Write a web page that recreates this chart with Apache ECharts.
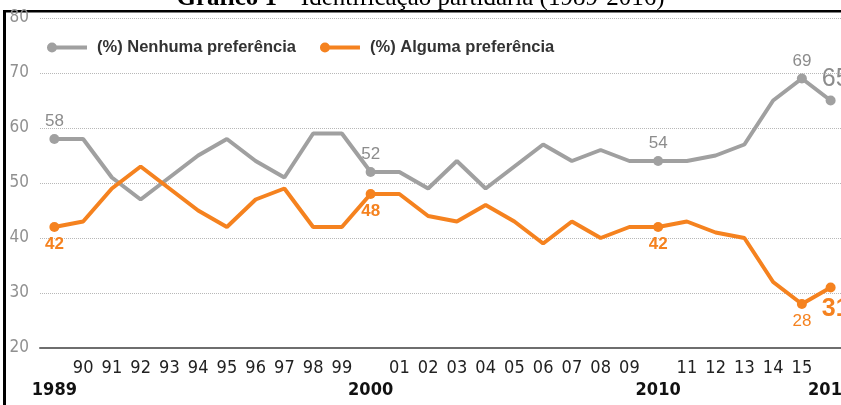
<!DOCTYPE html>
<html>
<head>
<meta charset="utf-8">
<script src="https://cdn.jsdelivr.net/npm/echarts@6/dist/echarts.min.js"></script>
<style>
  html, body { margin: 0; padding: 0; background: #fff; }
  #chart { width: 841px; height: 405px; }
</style>
</head>
<body>
<div id="chart"></div>
<script>
var years = ['1989', '1990', '1991', '1992', '1993', '1994', '1995', '1996', '1997', '1998',
             '1999', '2000', '2001', '2002', '2003', '2004', '2005', '2006', '2007', '2008',
             '2009', '2010', '2011', '2012', '2013', '2014', '2015', '2016'];
var nenhuma = [58, 58, 51, 47, 51, 55, 58, 54, 51, 59, 59, 52, 52, 49, 54, 49, 53, 57, 54, 56, 54, 54, 54, 55, 57, 65, 69, 65];
var alguma = [42, 43, 49, 53, 49, 45, 42, 47, 49, 42, 42, 48, 48, 44, 43, 46, 43, 39, 43, 40, 42, 42, 43, 41, 40, 32, 28, 31];
var bigYears = ['1989', '2000', '2010', '2016'];
var labelIdx = [0, 11, 21, 26, 27];

var GRAY = '#a0a0a0';
var ORANGE = '#f5821f';
var NARROW = '"Liberation Sans Narrow", "DejaVu Sans Condensed", sans-serif';

function buildData(vals, gray) {
    return vals.map(function (v, i) {
        if (labelIdx.indexOf(i) < 0) {
            return { value: v, symbol: 'none' };
        }
        var last = i === vals.length - 1;
        var lbl = {
            show: true,
            position: gray ? 'top' : 'bottom',
            distance: 4,
            fontFamily: 'Liberation Sans, Arial, sans-serif',
            fontSize: last ? 25 : 17,
            color: gray ? '#8c8c8c' : ORANGE,
            fontWeight: gray ? 'normal' : (i === 26 ? 'normal' : 'bold')
        };
        if (last) lbl.offset = [5, 0];
        return { value: v, symbol: 'circle', symbolSize: 10, label: lbl };
    });
}

var myChart = echarts.init(document.getElementById('chart'));

var option = {
    animation: false,
    title: {
        text: '{b|Gráfico 1} {r|– Identificação partidária (1989-2016)}',
        left: 'center',
        top: -19,
        textStyle: {
            rich: {
                b: { fontFamily: 'Liberation Serif, serif', fontSize: 25, fontWeight: 'bold', color: '#000' },
                r: { fontFamily: 'Liberation Serif, serif', fontSize: 25, fontWeight: 'normal', color: '#000' }
            }
        }
    },
    legend: {
        left: 42,
        top: 34,
        itemWidth: 40,
        itemHeight: 10,
        itemGap: 24,
        icon: 'path://M0,5a5,5 0 1,1 10,0a5,5 0 1,1 -10,0zM5,3h35v4h-35z',
        textStyle: {
            fontFamily: 'Liberation Sans, Arial, sans-serif',
            fontSize: 16.5,
            fontWeight: 'bold',
            color: '#333',
            padding: [0, 0, 0, 5]
        },
        data: ['(%) Nenhuma preferência', '(%) Alguma preferência']
    },
    grid: { left: 40, right: -4, top: 18, bottom: 57, outerBoundsMode: 'none', containLabel: false },
    xAxis: {
        type: 'category',
        data: years,
        boundaryGap: true,
        axisTick: { show: false },
        axisLine: { lineStyle: { color: '#6e6e6e', width: 2 } },
        axisLabel: {
            interval: 0,
            margin: 9,
            formatter: function (v) {
                if (bigYears.indexOf(v) >= 0) return '{a| }\n{b|' + v + '}';
                return '{a|' + v.slice(2) + '}';
            },
            rich: {
                a: { fontFamily: NARROW, fontSize: 18, color: '#222', lineHeight: 22 },
                b: { fontFamily: NARROW, fontSize: 18, fontWeight: 'bold', color: '#111', lineHeight: 22 }
            }
        }
    },
    yAxis: {
        type: 'value',
        min: 20,
        max: 80,
        interval: 10,
        axisLine: { show: false },
        axisTick: { show: false },
        axisLabel: { fontFamily: NARROW, fontSize: 17, color: '#909090', margin: 11 },
        splitLine: { lineStyle: { type: 'dotted', color: '#b8b8b8', width: 1 } }
    },
    graphic: [{
        // moldura do quadro
        type: 'rect',
        shape: { x: 3, y: 10, width: 3, height: 400 },
        style: { fill: '#000' }
    }, {
        type: 'rect',
        shape: { x: 3, y: 10, width: 840, height: 2.5 },
        style: { fill: '#000' }
    }],
    series: [{
        name: '(%) Nenhuma preferência',
        type: 'line',
        clip: false,
        symbol: 'circle',
        data: buildData(nenhuma, true),
        itemStyle: { color: GRAY },
        lineStyle: { color: GRAY, width: 4 },
        markLine: {
            silent: true,
            symbol: ['none', 'none'],
            label: { show: false },
            lineStyle: { type: 'dotted', color: '#aaaaaa', width: 1 },
            data: labelIdx.map(function (i) {
                return [{ coord: [years[i], nenhuma[i]] }, { coord: [years[i], 15] }];
            })
        },
        z: 3
    }, {
        name: '(%) Alguma preferência',
        type: 'line',
        clip: false,
        symbol: 'circle',
        data: buildData(alguma, false),
        itemStyle: { color: ORANGE },
        lineStyle: { color: ORANGE, width: 4 },
        z: 4
    }]
};

myChart.setOption(option);
</script>
</body>
</html>
